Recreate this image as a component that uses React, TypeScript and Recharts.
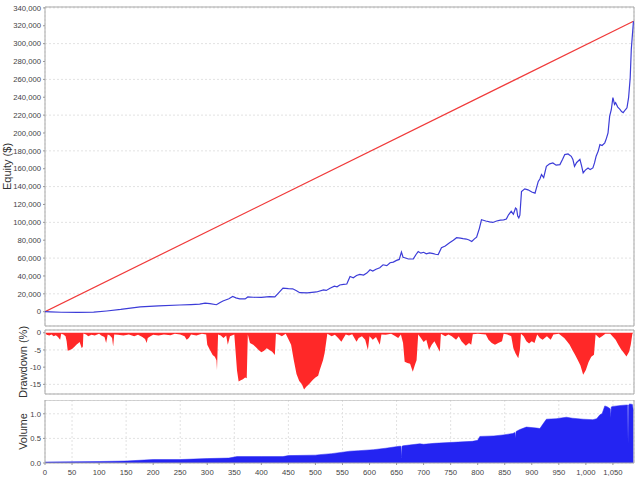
import React from 'react';
import { LineChart, Line, AreaChart, Area, XAxis, YAxis, CartesianGrid, ReferenceArea } from 'recharts';

const FONT = '"Liberation Sans", Arial, sans-serif';
const X_MAX = 1089;

const xTicks = [0, 50, 100, 150, 200, 250, 300, 350, 400, 450, 500, 550, 600, 650, 700, 750, 800, 850, 900, 950, 1000, 1050];
const equityTicks = [0, 20000, 40000, 60000, 80000, 100000, 120000, 140000, 160000, 180000, 200000, 220000, 240000, 260000, 280000, 300000, 320000, 340000];
const drawdownTicks = [0, -5, -10, -15];
const volumeTicks = [0, 0.5, 1.0];

// equity curve (trade number / balance)
const equityTrades = [0, 10, 30, 60, 90, 114, 140, 176, 210, 249, 270, 286, 296, 305, 317, 323, 329, 340, 347, 353, 360, 365, 370, 375, 385, 400, 415, 425, 432, 440, 450, 458, 465, 471, 485, 502, 515, 520, 527, 535, 540, 545, 552, 558, 564, 570, 576, 582, 589, 595, 601, 606, 612, 619, 625, 632, 638, 644, 650, 655, 659, 662, 665, 672, 681, 686, 690, 695, 700, 705, 711, 718, 722, 727, 733, 740, 748, 755, 761, 768, 773, 779, 784, 789, 794, 798, 803, 807, 815, 822, 828, 835, 842, 848, 853, 857, 862, 866, 870, 872, 874, 876, 878, 881, 887, 893, 900, 906, 912, 915, 918, 922, 927, 933, 939, 945, 952, 957, 961, 967, 973, 976, 979, 983, 989, 992, 995, 999, 1004, 1008, 1013, 1016, 1019, 1023, 1026, 1030, 1035, 1038, 1041, 1044, 1047, 1050, 1053, 1055, 1059, 1063, 1066, 1069, 1073, 1076, 1079, 1082, 1084, 1088];
const equityValues = [0, -200, -600, -800, -500, 800, 2500, 5500, 6500, 7500, 8000, 8500, 9500, 9000, 7800, 10000, 12000, 14500, 17000, 15500, 14300, 14500, 14300, 16500, 16200, 16000, 16800, 16500, 21000, 26300, 25800, 25600, 23500, 21300, 21000, 22100, 24500, 23800, 26300, 28500, 27800, 29900, 30500, 31000, 39400, 38000, 40500, 41700, 41000, 43200, 46900, 45500, 47500, 49200, 52500, 51500, 54800, 55500, 57400, 58500, 66800, 61000, 60400, 59000, 59200, 64000, 67300, 65500, 66500, 64800, 65900, 65000, 64300, 64000, 71600, 73500, 77200, 80000, 82800, 82400, 81800, 81300, 80200, 78600, 81500, 83500, 93000, 102900, 101500, 100500, 99900, 101500, 102500, 102800, 103700, 108500, 112300, 109000, 116000, 115000, 107000, 104900, 108000, 134600, 137500, 136400, 134000, 132700, 145800, 148500, 153400, 150000, 162700, 165500, 166500, 164000, 164600, 170500, 175800, 176500, 173900, 170500, 162700, 167000, 170500, 163500, 155300, 158500, 160900, 159000, 160900, 166500, 174000, 180000, 187000, 186000, 189000, 194000, 200200, 218900, 226000, 239500, 232000, 233900, 229000, 226400, 224000, 222700, 226000, 228200, 239500, 262000, 293700, 325000];

// straight reference line from start to final balance
const linearTrades = [0, 1088];
const linearValues = [0, 325000];

// drawdown (%)
const drawdownTrades = [0, 3, 8, 12, 16, 20, 24, 28, 30, 34, 38, 40, 42, 46, 50, 55, 58, 62, 64, 68, 70, 71, 76, 80, 86, 92, 100, 104, 110, 113, 116, 120, 124, 126, 128, 135, 145, 155, 165, 172, 180, 185, 188, 190, 195, 200, 210, 220, 232, 240, 250, 258, 262, 266, 270, 280, 290, 298, 300, 305, 310, 314, 317, 318, 320, 325, 330, 335, 338, 342, 350, 355, 358, 362, 366, 370, 373, 375, 379, 385, 390, 395, 400, 405, 410, 415, 420, 425, 427, 432, 438, 445, 449, 455, 460, 465, 470, 475, 479, 483, 488, 495, 500, 505, 508, 514, 517, 522, 530, 536, 542, 548, 552, 556, 562, 568, 576, 580, 586, 592, 597, 600, 606, 612, 619, 622, 630, 640, 648, 653, 658, 662, 665, 670, 675, 680, 684, 687, 690, 695, 700, 705, 710, 715, 720, 725, 730, 732, 740, 746, 752, 760, 765, 770, 778, 784, 788, 791, 800, 815, 820, 826, 832, 838, 845, 848, 855, 862, 866, 870, 875, 878, 880, 885, 890, 895, 900, 905, 910, 915, 920, 928, 935, 940, 950, 960, 965, 970, 975, 980, 985, 990, 995, 1000, 1005, 1010, 1015, 1018, 1025, 1030, 1036, 1045, 1055, 1060, 1065, 1070, 1075, 1080, 1083, 1086, 1088];
const drawdownValues = [0, -0.6, -0.8, -0.5, -1.0, -0.7, -1.2, -2.0, -0.3, -0.5, -1.0, -2.5, -5.2, -5.0, -4.7, -4.0, -3.5, -3.0, -2.7, -4.5, -4.0, -0.2, -0.5, -1.0, -0.6, -0.8, -0.3, -0.8, -1.2, -3.0, -0.5, -0.8, -1.5, -4.0, -0.5, -0.6, -0.8, -0.5, -1.0, -0.6, -1.2, -1.8, -3.0, -1.5, -1.0, -0.6, -0.8, -0.5, -0.7, -0.3, -0.5, -1.0, -2.0, -1.5, -0.5, -0.8, -0.3, -0.5, -3.5, -5.0, -6.5, -7.0, -8.0, -10.8, -0.5, -0.8, -1.5, -0.8, -3.5, -1.0, -0.5, -11.0, -14.2, -13.8, -13.5, -13.0, -13.2, -0.5, -3.0, -3.5, -4.2, -5.0, -5.7, -5.2, -4.5, -5.0, -5.5, -6.5, -0.3, -0.5, -1.0, -0.3, -1.5, -3.5, -8.0, -12.0, -14.0, -15.0, -16.5, -15.7, -15.0, -13.7, -13.0, -12.5, -10.8, -8.0, -5.9, -0.3, -1.0, -0.6, -1.5, -2.6, -1.5, -0.5, -0.8, -0.4, -2.6, -1.5, -1.0, -2.0, -5.0, -1.0, -2.0, -1.2, -3.5, -0.5, -0.6, -0.3, -1.0, -1.5, -0.5, -3.0, -8.4, -8.8, -9.0, -11.3, -9.3, -8.0, -0.5, -1.5, -2.7, -2.0, -5.0, -3.5, -2.5, -4.0, -5.5, -0.3, -1.0, -0.5, -1.0, -2.0, -1.0, -2.5, -3.8, -3.0, -3.5, -0.4, -0.3, -0.5, -2.0, -3.0, -3.5, -3.0, -2.5, -0.3, -0.5, -1.0, -4.5, -6.0, -7.4, -5.0, -0.3, -1.0, -2.5, -3.1, -2.5, -3.0, -0.5, -1.5, -2.0, -1.0, -2.0, -0.5, -0.3, -1.5, -2.5, -3.5, -5.0, -6.4, -7.9, -9.5, -12.2, -10.8, -8.5, -7.0, -6.4, -0.5, -1.5, -1.0, -0.3, -0.3, -2.0, -3.5, -4.8, -5.8, -6.9, -5.5, -3.5, -0.3, 0];

// volume (lots)
const volumeTrades = [0, 50, 100, 150, 200, 250, 300, 340, 355, 400, 440, 450, 500, 508, 530, 564, 580, 607, 630, 655, 658, 659, 660, 662, 693, 700, 720, 755, 790, 800, 804, 830, 847, 865, 869, 870, 871, 878, 890, 909, 915, 920, 927, 945, 964, 975, 995, 1013, 1020, 1026, 1030, 1035, 1040, 1045, 1046, 1047, 1050, 1065, 1077, 1078, 1079, 1081, 1086, 1088];
const volumeValues = [0.02, 0.025, 0.03, 0.04, 0.07, 0.07, 0.09, 0.1, 0.13, 0.13, 0.13, 0.15, 0.16, 0.17, 0.19, 0.24, 0.25, 0.27, 0.3, 0.34, 0.34, 0.1, 0.34, 0.35, 0.39, 0.38, 0.4, 0.42, 0.44, 0.46, 0.54, 0.55, 0.57, 0.6, 0.62, 0.5, 0.64, 0.68, 0.73, 0.71, 0.7, 0.78, 0.89, 0.9, 0.93, 0.91, 0.89, 0.88, 0.9, 0.98, 1.0, 1.16, 1.14, 1.1, 0.92, 1.14, 1.15, 1.17, 1.18, 0.4, 1.18, 1.2, 1.19, 1.05];

const zip = (xs: number[], ys: number[]) => xs.map((x, i) => ({ x, y: ys[i] }));
const equityData = zip(equityTrades, equityValues);
const linearData = zip(linearTrades, linearValues);
const drawdownData = zip(drawdownTrades, drawdownValues);
const volumeData = zip(volumeTrades, volumeValues);

const EQ_DOMAIN: [number, number] = [-16000, 341000];
const DD_DOMAIN: [number, number] = [-17.8, 0.8];
const VOL_DOMAIN: [number, number] = [0, 1.28];

const tickStyle = { fontSize: 7.7, fill: '#444', fontFamily: FONT };
const labelStyle = { textAnchor: 'middle' as const, fontSize: 11, fill: '#333', fontFamily: FONT };
const gridColor = '#e2e2e2';
const borderColor = '#a9a9a9';

const fmtThousands = (v: number) => v.toLocaleString('en-US');

const hiddenX = (
  <XAxis type="number" dataKey="x" domain={[0, X_MAX]} ticks={xTicks} height={0}
    tick={false} axisLine={false} tickLine={false} allowDataOverflow />
);

const App: React.FC = () => {
  return (
    <div style={{ position: 'absolute', left: 0, top: 0, width: 640, height: 480, background: '#fff', fontFamily: FONT }}>
      <div style={{ position: 'absolute', left: 0, top: 0 }}>
        <LineChart width={640} height={327} margin={{ top: 7, right: 6, bottom: 1, left: 0 }}>
          <CartesianGrid stroke={gridColor} strokeDasharray="2 2" />
          {hiddenX}
          <YAxis type="number" domain={EQ_DOMAIN} ticks={equityTicks} width={45} allowDataOverflow
            tick={tickStyle} tickFormatter={fmtThousands} tickSize={2} tickMargin={2}
            axisLine={false} tickLine={{ stroke: '#999' }}
            label={{ value: 'Equity ($)', angle: -90, position: 'insideLeft', offset: 7, style: labelStyle }} />
          <ReferenceArea x1={0} x2={X_MAX} y1={EQ_DOMAIN[0]} y2={EQ_DOMAIN[1]} fill="none" stroke={borderColor} ifOverflow="visible" />
          <Line data={linearData} dataKey="y" type="linear" stroke="#f03a3a" strokeWidth={1.2} dot={false} isAnimationActive={false} />
          <Line data={equityData} dataKey="y" type="linear" stroke="#3c3cd8" strokeWidth={1.2} dot={false} isAnimationActive={false} />
        </LineChart>
      </div>

      <div style={{ position: 'absolute', left: 0, top: 318 }}>
        <AreaChart width={640} height={88} data={drawdownData} margin={{ top: 12, right: 6, bottom: 12, left: 0 }}>
          <CartesianGrid stroke={gridColor} strokeDasharray="2 2" />
          {hiddenX}
          <YAxis type="number" domain={DD_DOMAIN} ticks={drawdownTicks} width={45} allowDataOverflow
            tick={tickStyle} tickSize={2} tickMargin={2}
            axisLine={false} tickLine={{ stroke: '#999' }}
            label={{ value: 'Drawdown (%)', angle: -90, position: 'insideLeft', offset: 23, style: labelStyle }} />
          <Area dataKey="y" type="linear" baseValue={0} stroke="none" fill="#ff2828" fillOpacity={1} isAnimationActive={false} />
          <ReferenceArea x1={0} x2={X_MAX} y1={DD_DOMAIN[0]} y2={DD_DOMAIN[1]} fill="none" stroke={borderColor} ifOverflow="visible" />
        </AreaChart>
      </div>

      <div style={{ position: 'absolute', left: 0, top: 400 }}>
        <AreaChart width={640} height={80} data={volumeData} margin={{ top: 0, right: 6, bottom: 0, left: 0 }}>
          <CartesianGrid stroke={gridColor} strokeDasharray="2 2" />
          <XAxis type="number" dataKey="x" domain={[0, X_MAX]} ticks={xTicks} height={17} allowDataOverflow
            tick={tickStyle} tickFormatter={fmtThousands} tickSize={2} tickMargin={5}
            axisLine={false} tickLine={{ stroke: '#999' }} />
          <YAxis type="number" domain={VOL_DOMAIN} ticks={volumeTicks} width={45} allowDataOverflow
            tick={tickStyle} tickFormatter={(v: number) => v.toFixed(1)} tickSize={2} tickMargin={2}
            axisLine={false} tickLine={{ stroke: '#999' }}
            label={{ value: 'Volume', angle: -90, position: 'insideLeft', offset: 23, style: labelStyle }} />
          <Area dataKey="y" type="linear" baseValue={0} stroke="#2424f2" strokeWidth={0.5} fill="#2424f2" fillOpacity={1} isAnimationActive={false} />
          <ReferenceArea x1={0} x2={X_MAX} y1={VOL_DOMAIN[0]} y2={VOL_DOMAIN[1]} fill="none" stroke={borderColor} ifOverflow="visible" />
        </AreaChart>
      </div>
    </div>
  );
};

export default App;
